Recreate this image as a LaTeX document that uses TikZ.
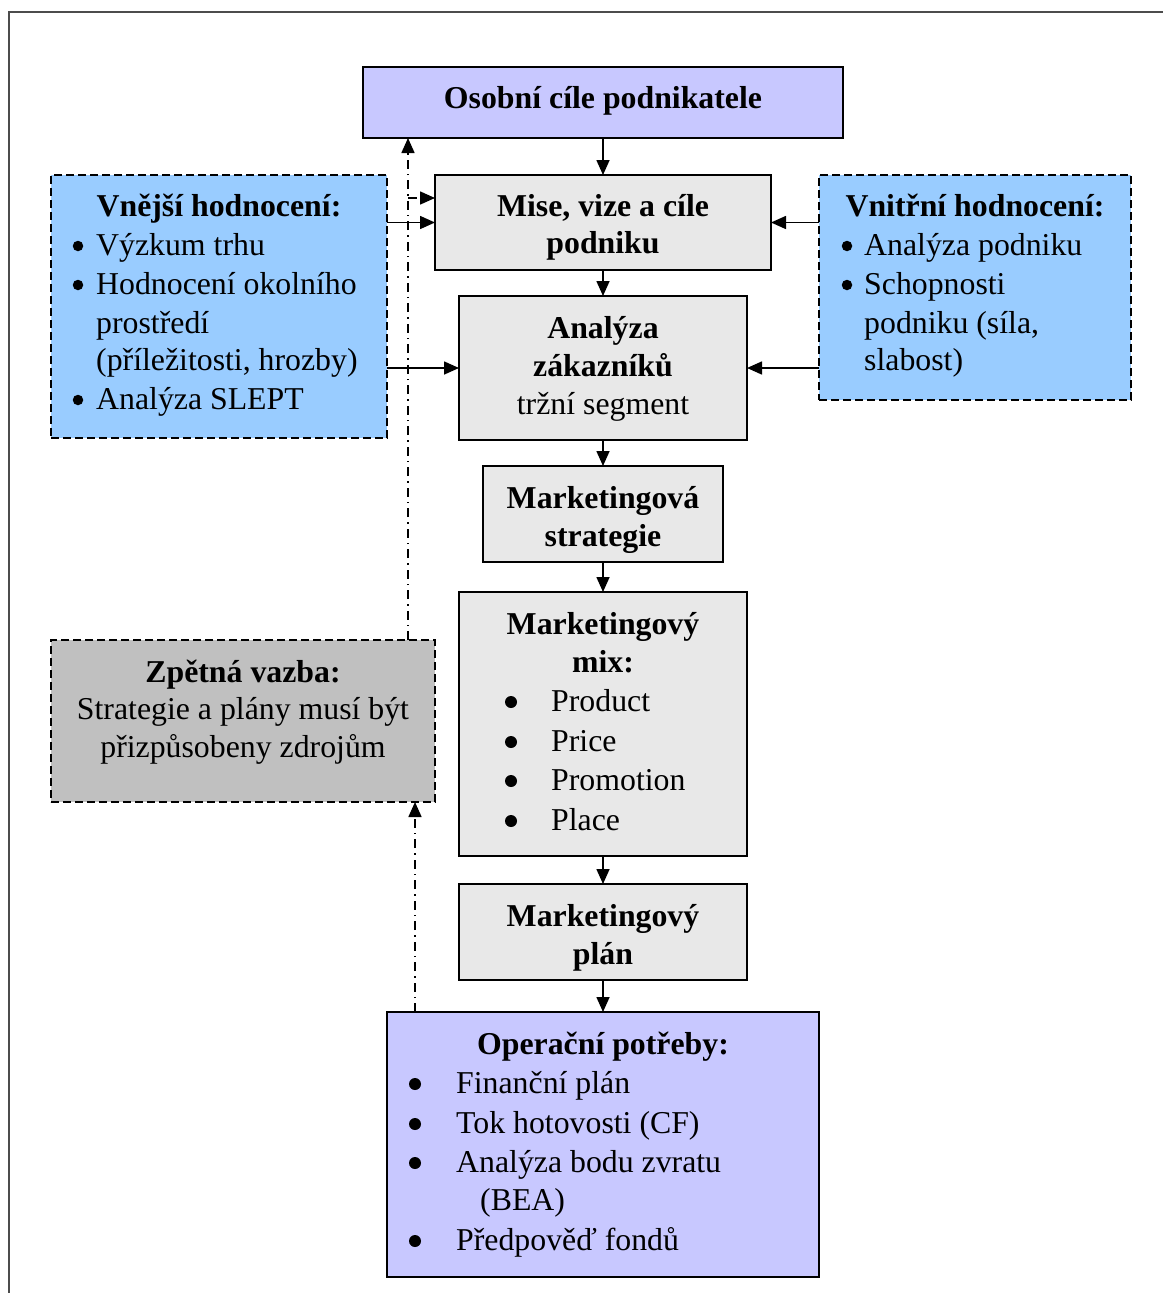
\documentclass[tikz,border=0pt]{standalone}
\usepackage{fontspec}
\setmainfont{Liberation Serif}
\usetikzlibrary{arrows.meta}
\definecolor{lav}{HTML}{C8C8FF}
\definecolor{lgray}{HTML}{E8E8E8}
\definecolor{lblue}{HTML}{99CCFF}
\definecolor{mgray}{HTML}{C0C0C0}
\begin{document}
\begin{tikzpicture}[x=1pt,y=-1pt,
  box/.style={draw, line width=2pt, inner sep=0pt, outer sep=0pt, anchor=north west},
  dbox/.style={box, dash pattern=on 8pt off 4pt},
  txt/.style={inner sep=0pt, font=\fontsize{31.8}{39}\selectfont},
  btxt/.style={txt, font=\fontsize{31.8}{39}\selectfont\bfseries},
  bul/.style={circle, fill=black, inner sep=0pt, minimum size=10.5pt},
  bigbul/.style={circle, fill=black, inner sep=0pt, minimum size=12pt},
  tip/.style={-{Triangle[length=15pt,width=13pt]}},
  arr/.style={draw, line width=1.6pt, tip},
  dd/.style={draw, line width=1.6pt, dash pattern=on 9pt off 5pt on 1.5pt off 5pt}
]
\useasboundingbox (0,0) rectangle (1162,1293);
\fill[white] (0,0) rectangle (1162,1293);
\draw[line width=2pt, color=black!70] (9,12) rectangle (1190,1320);

% boxes
\node[box, fill=lav, minimum width=480pt, minimum height=71pt] (osobni) at (363,67) {};
\node[box, fill=lgray, minimum width=336pt, minimum height=95pt] (mise) at (435,175) {};
\node[dbox, fill=lblue, minimum width=336pt, minimum height=263pt] (vnejsi) at (51,175) {};
\node[dbox, fill=lblue, minimum width=312pt, minimum height=225pt] (vnitrni) at (819,175) {};
\node[box, fill=lgray, minimum width=288pt, minimum height=144pt] (analyza) at (459,296) {};
\node[box, fill=lgray, minimum width=240pt, minimum height=96pt] (strategie) at (483,466) {};
\node[box, fill=lgray, minimum width=288pt, minimum height=264pt] (mix) at (459,592) {};
\node[box, fill=lgray, minimum width=288pt, minimum height=96pt] (plan) at (459,884) {};
\node[box, fill=lav, minimum width=432pt, minimum height=265pt] (oper) at (387,1012) {};
\node[dbox, fill=mgray, minimum width=384pt, minimum height=162pt] (zpetna) at (51,640) {};

% texts
\node[btxt, anchor=base] (t1) at (603,108) {Osobní cíle podnikatele};
\node[btxt, anchor=base] (t2) at (603,216) {Mise, vize a cíle};
\node[btxt, anchor=base] (t3) at (603,253) {podniku};

\node[btxt, anchor=base] (v0) at (219,216) {Vnější hodnocení:};
\node[bul] (vb1) at (78,246) {};
\node[txt, anchor=base west] (v1) at (96,255) {Výzkum trhu};
\node[bul] (vb2) at (78,285) {};
\node[txt, anchor=base west] (v2) at (96,294) {Hodnocení okolního};
\node[txt, anchor=base west] (v3) at (96,333) {prostředí};
\node[txt, anchor=base west] (v4) at (96,370) {(příležitosti, hrozby)};
\node[bul] (vb5) at (78,400) {};
\node[txt, anchor=base west] (v5) at (96,409) {Analýza SLEPT};

\node[btxt, anchor=base] (n0) at (975,216) {Vnitřní hodnocení:};
\node[bul] (nb1) at (847,246) {};
\node[txt, anchor=base west] (n1) at (864,255) {Analýza podniku};
\node[bul] (nb2) at (847,285) {};
\node[txt, anchor=base west] (n2) at (864,294) {Schopnosti};
\node[txt, anchor=base west] (n3) at (864,333) {podniku (síla,};
\node[txt, anchor=base west] (n4) at (864,370) {slabost)};

\node[btxt, anchor=base] (a1) at (603,338) {Analýza};
\node[btxt, anchor=base] (a2) at (603,376) {zákazníků};
\node[txt, anchor=base] (a3) at (603,414) {tržní segment};

\node[btxt, anchor=base] (s1) at (603,508) {Marketingová};
\node[btxt, anchor=base] (s2) at (603,546) {strategie};

\node[btxt, anchor=base] (m1) at (603,634) {Marketingový};
\node[btxt, anchor=base] (m2) at (603,672) {mix:};
\node[bigbul] (mb1) at (511,702) {};
\node[txt, anchor=base west] (m3) at (551,711) {Product};
\node[bigbul] (mb2) at (511,742) {};
\node[txt, anchor=base west] (m4) at (551,751) {Price};
\node[bigbul] (mb3) at (511,781) {};
\node[txt, anchor=base west] (m5) at (551,790) {Promotion};
\node[bigbul] (mb4) at (511,821) {};
\node[txt, anchor=base west] (m6) at (551,830) {Place};

\node[btxt, anchor=base] (p1) at (603,926) {Marketingový};
\node[btxt, anchor=base] (p2) at (603,964) {plán};

\node[btxt, anchor=base] (o0) at (603,1054) {Operační potřeby:};
\node[bigbul] (ob1) at (415,1084) {};
\node[txt, anchor=base west] (o1) at (456,1093) {Finanční plán};
\node[bigbul] (ob2) at (415,1124) {};
\node[txt, anchor=base west] (o2) at (456,1133) {Tok hotovosti (CF)};
\node[bigbul] (ob3) at (415,1163) {};
\node[txt, anchor=base west] (o3) at (456,1172) {Analýza bodu zvratu};
\node[txt, anchor=base west] (o4) at (480,1210) {(BEA)};
\node[bigbul] (ob5) at (415,1241) {};
\node[txt, anchor=base west] (o5) at (456,1250) {Předpověď fondů};

\node[btxt, anchor=base] (z0) at (243,682) {Zpětná vazba:};
\node[txt, anchor=base] (z1) at (243,719) {Strategie a plány musí být};
\node[txt, anchor=base] (z2) at (243,757) {přizpůsobeny zdrojům};

% main arrows
\draw[arr] (osobni) -- (mise);
\draw[arr] (mise) -- (analyza);
\draw[arr] (analyza) -- (strategie);
\draw[arr] (strategie) -- (mix);
\draw[arr] (mix) -- (plan);
\draw[arr] (plan) -- (oper);
\draw[arr] (vnejsi.east |- mise.west) -- (mise.west);
\draw[arr] (vnejsi.east |- analyza.west) -- (analyza.west);
\draw[arr] (vnitrni.west |- mise.east) -- (mise.east);
\draw[arr] (vnitrni.west |- analyza.east) -- (analyza.east);

% feedback dash-dot
\coordinate (fbx) at (408,0);
\coordinate (br) at (408,198);
\draw[dd, tip] (zpetna.north -| fbx) -- (osobni.south -| fbx);
\draw[dd, tip] (br) -- (mise.west |- br);
\coordinate (fbx2) at (415,0);
\draw[dd, tip] (oper.north -| fbx2) -- (zpetna.south -| fbx2);
\end{tikzpicture}
\end{document}
